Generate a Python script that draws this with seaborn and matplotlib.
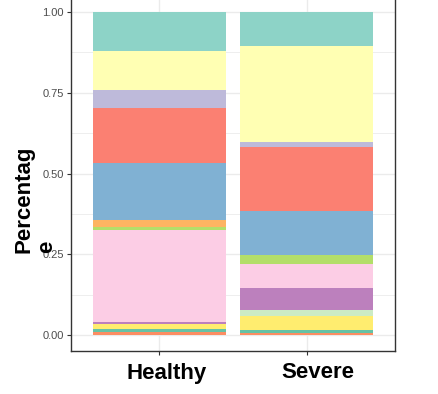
import numpy as np
import pandas as pd
import matplotlib
matplotlib.use("Agg")
import matplotlib.pyplot as plt
import seaborn as sns

# Groups on the x axis
groups = ["Healthy", "Severe"]

# Taxa, listed from the bottom of each stack to the top
taxa = ["Taxon 14", "Taxon 13", "Taxon 12", "Taxon 11", "Taxon 10",
        "Taxon 8", "Taxon 7", "Taxon 6", "Taxon 5", "Taxon 4",
        "Taxon 3", "Taxon 2", "Taxon 1"]
colors = ["#FC8D62", "#66C2A5", "#FFED6F", "#CCEBC5", "#BC80BD",
          "#FCCDE5", "#B3DE69", "#FDB462", "#80B1D3", "#FB8072",
          "#BEBADA", "#FFFFB3", "#8DD3C7"]

# Relative abundance per taxon (same order as taxa)
healthy = [0.009, 0.009, 0.0145, 0.000, 0.007,
           0.285, 0.009, 0.022, 0.176, 0.170,
           0.056, 0.121, 0.1215]
severe = [0.006, 0.008, 0.043, 0.019, 0.068,
          0.077, 0.025, 0.000, 0.138, 0.199,
          0.015, 0.297, 0.105]

y_ticks = [0.00, 0.25, 0.50, 0.75, 1.00]
y_tick_labels = ["0.00", "0.25", "0.50", "0.75", "1.00"]

sns.set_style("white")
plt.rcParams["font.family"] = ["Liberation Sans", "DejaVu Sans"]

fig = plt.figure(figsize=(4.38, 3.94), dpi=100)
W, H = 438, 394
left, right, bottom, top = 71, 395, 351, -4
ax = fig.add_axes([left / W, (H - bottom) / H, (right - left) / W, (bottom - top) / H])

base = np.zeros(len(groups))
for name, col, h, s in zip(taxa, colors, healthy, severe):
    vals = np.array([h, s])
    df = pd.DataFrame({"group": groups, "value": vals})
    sns.barplot(data=df, x="group", y="value", order=groups, color=col,
                width=0.9, errorbar=None, bottom=base.copy(),
                saturation=1, linewidth=0, ax=ax)
    base = base + vals

ax.set_xlim(-0.6, 1.6)
ax.set_ylim(-0.05, 1.05)
ax.set_yticks(y_ticks)
ax.set_yticklabels(y_tick_labels)
ax.set_yticks([0.125, 0.375, 0.625, 0.875], minor=True)
ax.set_xticks([0, 1])
ax.set_xticklabels(["", ""])

ax.set_axisbelow(True)
ax.grid(True, which="major", color="#EBEBEB", linewidth=1.0)
ax.grid(True, which="minor", axis="y", color="#EBEBEB", linewidth=0.6)

for side in ["left", "right", "bottom", "top"]:
    ax.spines[side].set_visible(True)
    ax.spines[side].set_color("#333333")
    ax.spines[side].set_linewidth(1.0)

ax.tick_params(axis="y", which="major", length=3, width=0.8, color="#333333",
               labelsize=8, labelcolor="#4D4D4D", pad=2, left=True)
ax.tick_params(axis="y", which="minor", length=0)
ax.tick_params(axis="x", which="major", length=3, width=0.8, color="#333333",
               bottom=True)
ax.set_xlabel("")
ax.set_ylabel("")

# Group labels below the axis
fig.text(167 / W, (H - 373) / H, "Healthy", ha="center", va="center",
         fontsize=16, fontweight="bold", color="black")
fig.text(318 / W, (H - 373) / H, "Severe", ha="center", va="center",
         fontsize=16, fontweight="bold", color="black")

# Y axis title
fig.text(13 / W, (H - 253) / H, "Percentag\ne", rotation=90, ha="left",
         va="bottom", multialignment="left", fontsize=16,
         fontweight="bold", color="black", linespacing=1.15)

fig.savefig("out.png", dpi=100)
